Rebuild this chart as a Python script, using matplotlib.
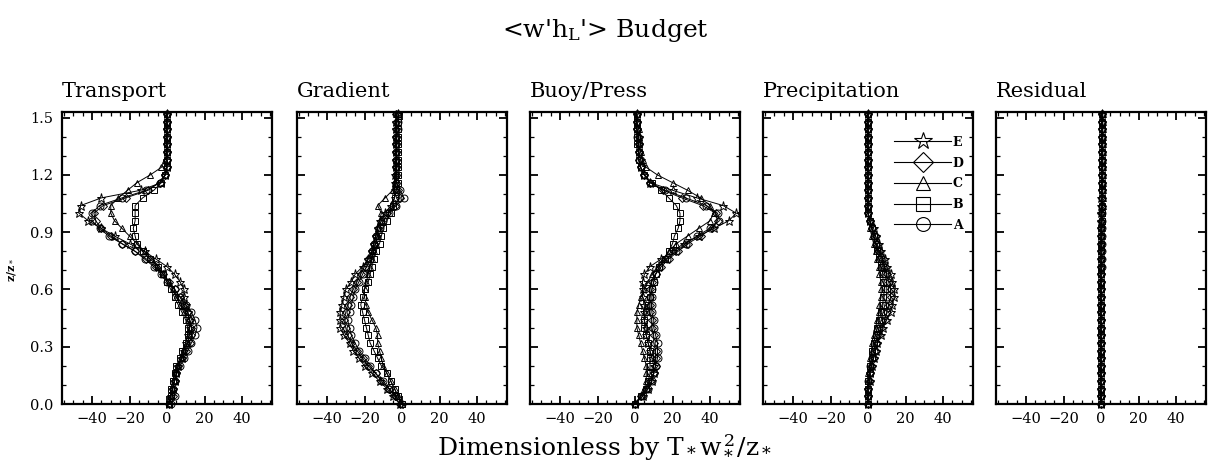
import matplotlib
matplotlib.use("Agg")
import matplotlib.pyplot as plt
from matplotlib.lines import Line2D
from matplotlib.ticker import MultipleLocator, FormatStrFormatter

plt.rcParams["font.family"] = "DejaVu Serif"
plt.rcParams["mathtext.fontset"] = "dejavuserif"

# heights z/z*
z_levels = [0.00, 0.04, 0.08, 0.12, 0.16, 0.20, 0.24, 0.28, 0.32, 0.36,
            0.40, 0.44, 0.48, 0.52, 0.56, 0.60, 0.64, 0.68, 0.72, 0.76,
            0.80, 0.84, 0.88, 0.92, 0.96, 1.00, 1.04, 1.08, 1.12, 1.16,
            1.20, 1.24, 1.28, 1.32, 1.36, 1.40, 1.44, 1.48, 1.52]

# ---- transport term ----
transport_A = [2, 4, 3, 4, 5, 7, 9, 11, 13, 15, 16, 15, 13, 10, 7, 4, 0, -3, -7, -12,
               -17, -24, -31, -36, -40, -40, -36, -24, -11, -4, -1, 0, 0, 0, 0, 0, 0, 0, 0]
transport_B = [1, 2, 2, 3, 4, 5, 7, 8, 10, 11, 11, 10, 8, 6, 4, 2, 0, -2, -5, -9,
               -13, -16, -17, -18, -17, -17, -17, -13, -7, -3, -1, 0, 0, 0, 0, 0, 0, 0, 0]
transport_C = [1, 2, 3, 4, 5, 6, 8, 9, 11, 12, 12, 11, 9, 7, 5, 3, 1, -2, -5, -8,
               -12, -16, -20, -24, -28, -30, -30, -26, -21, -16, -9, -3, -1, 0, 0, 0, 0, 0, 0]
transport_D = [1, 3, 3, 4, 5, 6, 8, 10, 12, 13, 13, 12, 11, 9, 7, 4, 1, -2, -6, -11,
               -17, -24, -30, -35, -38, -39, -34, -22, -10, -4, -1, 0, 0, 0, 0, 0, 0, 0, 0]
transport_E = [1, 2, 3, 4, 5, 6, 8, 9, 10, 11, 12, 12, 11, 10, 9, 9, 7, 4, 0, -6,
               -12, -20, -28, -35, -42, -47, -46, -35, -14, -3, -1, 0, 0, 0, 0, 0, 0, 0, 0]

# ---- gradient production ----
gradient_A = [0, -3, -7, -10, -14, -17, -20, -23, -25, -27, -28, -29, -28, -27, -26, -25, -23, -21, -19, -17,
              -16, -15, -14, -12, -10, -7, -3, 1, -1, -3, -3, -3, -3, -3, -3, -3, -2, -2, -2]
gradient_B = [0, -2, -4, -6, -8, -11, -13, -15, -17, -18, -19, -20, -21, -22, -21, -20, -18, -17, -16, -15,
              -14, -12, -11, -10, -8, -6, -5, -4, -3, -2, -2, -2, -2, -2, -2, -2, -2, -2, -2]
gradient_C = [0, -2, -4, -6, -8, -10, -11, -12, -13, -13, -14, -16, -18, -19, -20, -20, -19, -18, -17, -16,
              -15, -14, -13, -13, -12, -11, -13, -9, -5, -4, -3, -3, -3, -3, -3, -3, -3, -3, -3]
gradient_D = [-1, -4, -7, -11, -14, -18, -21, -24, -27, -29, -30, -31, -30, -29, -28, -26, -24, -22, -20, -18,
              -16, -15, -14, -13, -11, -8, -4, -1, -2, -3, -3, -3, -3, -3, -3, -3, -3, -3, -3]
gradient_E = [-1, -5, -8, -12, -16, -20, -23, -26, -28, -31, -33, -33, -33, -32, -31, -30, -27, -25, -21, -18,
              -16, -15, -14, -13, -12, -9, -6, -4, -4, -4, -4, -3, -3, -3, -3, -3, -3, -3, -2]

# ---- buoyancy / pressure ----
buoy_A = [0, 4, 7, 9, 10, 11, 12, 12, 12, 11, 10, 10, 9, 9, 9, 9, 10, 11, 13, 17,
          22, 27, 33, 40, 45, 44, 38, 27, 16, 8, 5, 3, 2, 2, 2, 1, 1, 1, 1]
buoy_B = [0, 3, 6, 7, 8, 8, 8, 8, 7, 6, 5, 5, 6, 7, 8, 9, 10, 11, 13, 16,
          18, 20, 21, 23, 24, 24, 22, 18, 14, 9, 5, 3, 2, 2, 1, 1, 1, 1, 1]
buoy_C = [0, 3, 5, 6, 6, 6, 5, 4, 3, 2, 1, 1, 1, 2, 3, 5, 7, 9, 12, 15,
          18, 22, 28, 34, 40, 42, 40, 35, 28, 20, 12, 6, 4, 3, 2, 2, 2, 1, 1]
buoy_D = [0, 3, 6, 8, 10, 11, 11, 11, 10, 10, 9, 9, 8, 8, 8, 8, 9, 11, 14, 18,
          23, 28, 35, 41, 44, 43, 36, 25, 15, 8, 5, 3, 2, 2, 2, 2, 1, 1, 1]
buoy_E = [0, 4, 7, 9, 10, 10, 9, 8, 7, 6, 6, 5, 5, 5, 4, 4, 4, 5, 8, 14,
          20, 26, 34, 42, 50, 54, 47, 33, 20, 8, 5, 3, 3, 2, 2, 2, 1, 1, 1]

# ---- precipitation ----
precip_A = [0, 0, 0, 0, 1, 1, 2, 3, 4, 5, 6, 7, 8, 9, 10, 10, 10, 9, 8, 7,
            6, 4, 3, 2, 1, 0, 0, 0, 0, 0, 0, 0, 0, 0, 0, 0, 0, 0, 0]
precip_B = [0, 0, 0, 0, 1, 1, 2, 2, 3, 4, 5, 6, 7, 8, 8, 9, 8, 8, 7, 6,
            5, 4, 3, 2, 1, 0, 0, 0, 0, 0, 0, 0, 0, 0, 0, 0, 0, 0, 0]
precip_C = [0, 0, 0, 0, 0, 1, 1, 2, 2, 3, 4, 5, 6, 6, 7, 7, 7, 6, 6, 5,
            4, 3, 2, 1, 1, 0, 0, 0, 0, 0, 0, 0, 0, 0, 0, 0, 0, 0, 0]
precip_D = [0, 0, 0, 1, 1, 2, 3, 4, 5, 6, 7, 9, 10, 11, 12, 12, 11, 10, 9, 8,
            6, 5, 4, 2, 1, 0, 0, 0, 0, 0, 0, 0, 0, 0, 0, 0, 0, 0, 0]
precip_E = [0, 0, 0, 1, 1, 2, 3, 4, 5, 7, 8, 10, 12, 13, 14, 14, 13, 12, 10, 9,
            7, 6, 4, 3, 1, 0, 0, 0, 0, 0, 0, 0, 0, 0, 0, 0, 0, 0, 0]

# ---- residual ----
resid_A = [0, 0, 0, 0, 0, 0, 0, 0, 0, 0, 0, 0, 0, 0, 0, 0, 0, 0, 0.5, 0.5,
           0.5, 0.5, 0.5, 0.5, 0.5, 0.5, 0.5, 0.5, 0.5, 0.5, 0.5, 0.5, 0.5, 0.5, 0.5, 0.5, 0.5, 0.5, 0.5]
resid_B = [0, 0, 0, 0, 0, 0, 0, 0, 0, 0, 0, 0, 0, 0, 0, 0, 0, 0, 0, 0,
           0, 0, 0, 0, 0.5, 0.5, 0.5, 0.5, 0.5, 0.5, 0.5, 0.5, 0.5, 0.5, 0.5, 0.5, 0.5, 0.5, 0.5]
resid_C = [0, 0, 0, 0, 0, 0, 0, 0, 0, 0, 0, 0, 0, 0, 0, 0, 0, 0, 0, 0,
           0, 0, 0.5, 0.5, 0.5, 0.5, 1, 1, 1, 1, 1, 1, 1, 1, 1, 1, 1, 1, 1]
resid_D = [0, 0, 0, 0, 0, 0, 0, 0, 0, 0, 0, 0, 0, 0, 0, 0, 0, 0, 0, 0,
           0, 0, 0, 0, 0, 0, 0.5, 0.5, 0.5, 0.5, 0.5, 0.5, 0.5, 0.5, 0.5, 0.5, 0.5, 0.5, 0.5]
resid_E = [0, 0, 0, 0, 0, 0, 0, 0, 0, 0, 0, 0, 0, 0, 0, 0, 0, 0, 0, 0,
           0, 0, 0, 0, 0, 0, 0, 0, 0.5, 0.5, 0.5, 0.5, 0.5, 0.5, 0.5, 0.5, 0.5, 0.5, 0.5]

panel_titles = ["Transport", "Gradient", "Buoy/Press", "Precipitation", "Residual"]
panel_data = [
    {"A": transport_A, "B": transport_B, "C": transport_C, "D": transport_D, "E": transport_E},
    {"A": gradient_A, "B": gradient_B, "C": gradient_C, "D": gradient_D, "E": gradient_E},
    {"A": buoy_A, "B": buoy_B, "C": buoy_C, "D": buoy_D, "E": buoy_E},
    {"A": precip_A, "B": precip_B, "C": precip_C, "D": precip_D, "E": precip_E},
    {"A": resid_A, "B": resid_B, "C": resid_C, "D": resid_D, "E": resid_E},
]
runs = ["A", "B", "C", "D", "E"]
markers = {"A": "o", "B": "s", "C": "^", "D": "D", "E": "*"}
msize = {"A": 5, "B": 5, "C": 5, "D": 4, "E": 6.5}

W, H = 1210, 468
fig = plt.figure(figsize=(W / 100, H / 100), dpi=100)
lefts = [62, 297, 530, 763, 996]

for i, (name, series) in enumerate(zip(panel_titles, panel_data)):
    ax = fig.add_axes([lefts[i] / W, 64 / H, 210 / W, 292 / H])
    for r in runs:
        ax.plot(series[r], z_levels, color="k", lw=0.7, marker=markers[r], ms=msize[r],
                mfc="none", mec="k", mew=0.7, clip_on=False)
    ax.set_xlim(-56, 56)
    ax.set_ylim(0, 1.53)
    ax.xaxis.set_major_locator(MultipleLocator(20))
    ax.xaxis.set_minor_locator(MultipleLocator(5))
    ax.yaxis.set_major_locator(MultipleLocator(0.3))
    ax.yaxis.set_minor_locator(MultipleLocator(0.1))
    ax.yaxis.set_major_formatter(FormatStrFormatter("%.1f"))
    ax.tick_params(which="both", direction="in", top=True, right=True, labelsize=10.5)
    ax.tick_params(which="major", length=6, width=1.3, pad=6)
    ax.tick_params(which="minor", length=3, width=0.9)
    for s in ax.spines.values():
        s.set_linewidth(1.6)
    if i > 0:
        ax.set_yticklabels([])
    ax.set_title(name, loc="left", fontsize=15, pad=11)

    if name == "Precipitation":
        handles = [Line2D([], [], color="k", lw=0.8, marker=markers[r], ms=10 if r != "E" else 13,
                          mfc="none", mec="k", mew=0.8, label=r) for r in runs[::-1]]
        ax.legend(handles=handles, loc="upper right", bbox_to_anchor=(0.985, 0.94),
                  frameon=False, handlelength=4.6, handletextpad=0.1, labelspacing=0.62,
                  borderpad=0, prop={"size": 9, "weight": "bold"})

fig.text(0.5, 1 - 31 / H, r"<w'h$_\mathrm{L}$'> Budget", ha="center", va="center", fontsize=18)
fig.text(0.5, 1 - 447 / H, r"Dimensionless by T$_*$w$_*^{\,2}$/z$_*$", ha="center", va="center", fontsize=18)
fig.text(12 / W, 1 - 270 / H, r"z/z$_*$", rotation=90, ha="center", va="center", fontsize=8, fontweight="bold")

fig.savefig("out.png", dpi=100)
